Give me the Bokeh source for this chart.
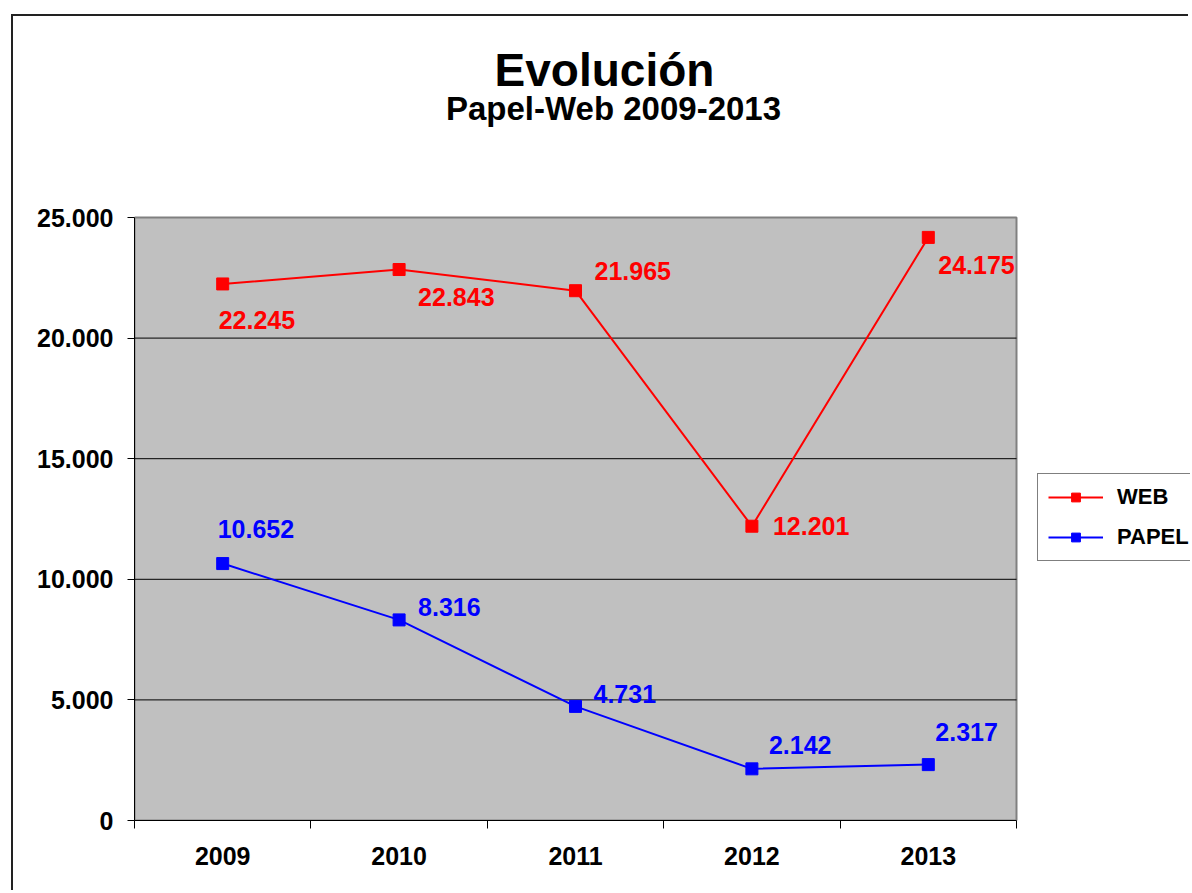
from bokeh.plotting import figure
from bokeh.models import Range1d, FixedTicker, Legend, LegendItem, Label
from bokeh.core.properties import value
from bokeh.embed import file_html
from bokeh.resources import INLINE

# ---- data ----
years = ["2009", "2010", "2011", "2012", "2013"]
web = [22245, 22843, 21965, 12201, 24175]
papel = [10652, 8316, 4731, 2142, 2317]
y_ticks = [0, 5000, 10000, 15000, 20000, 25000]
y_tick_labels = ["0", "5.000", "10.000", "15.000", "20.000", "25.000"]
title_main = "Evolución"
title_sub = "Papel-Web 2009-2013"

# data-label offsets in screen pixels (positive dy = down)
web_dx = [-4, 19, 19, 21, 10]
web_dy = [36, 27, -20, 0, 28]
papel_dx = [-5, 19, 18, 17, 7]
papel_dy = [-35, -13, -12, -24, -33]

FONT = "Liberation Sans"

# ---- layout (page pixels) ----
CANVAS_X, CANVAS_Y = 13, 16          # canvas origin on the page
PLOT_L, PLOT_R = 134, 1016           # grey plot area
PLOT_T, PLOT_B = 217, 820
W, H = 1177, 876
FRAME_R = CANVAS_X + W               # frame extends to the canvas right edge
FRAME_T = CANVAS_Y                   # ... and to the canvas top
Y_MAX = y_ticks[-1]
N = len(years)

x_end = N * (FRAME_R - PLOT_L) / (PLOT_R - PLOT_L)
y_end = Y_MAX * (PLOT_B - FRAME_T) / (PLOT_B - PLOT_T)


def px_to_x(px):
    return N * (px - PLOT_L) / (PLOT_R - PLOT_L)


def py_to_y(py):
    return Y_MAX * (PLOT_B - py) / (PLOT_B - PLOT_T)


def fmt(v):
    return f"{v:,}".replace(",", ".")


xs = [i + 0.5 for i in range(N)]

p = figure(width=W, height=H,
           x_range=Range1d(0, x_end), y_range=Range1d(0, y_end),
           output_backend="svg", toolbar_location=None,
           min_border_left=PLOT_L - CANVAS_X, min_border_right=0,
           min_border_top=0, min_border_bottom=CANVAS_Y + H - PLOT_B)
p.margin = (CANVAS_Y - 2, 0, 0, CANVAS_X - 2)
p.styles = {"border-left": "2px solid #222", "border-top": "2px solid #222"}

p.background_fill_color = "white"
p.border_fill_color = "white"
p.outline_line_color = None
p.xgrid.visible = False
p.ygrid.visible = False

# grey plot area with grey border
p.quad(left=[0], right=[N], bottom=[0], top=[Y_MAX],
       fill_color="#C0C0C0", line_color="#808080", line_width=2)
# horizontal gridlines
p.segment(x0=[0] * (len(y_ticks) - 2), x1=[N] * (len(y_ticks) - 2),
          y0=y_ticks[1:-1], y1=y_ticks[1:-1], line_color="black", line_width=1)

# y axis
ya = p.yaxis[0]
ya.bounds = (0, Y_MAX)
ya.ticker = FixedTicker(ticks=y_ticks)
ya.major_label_overrides = {t: l for t, l in zip(y_ticks, y_tick_labels)}
ya.axis_line_color = "black"
ya.major_tick_line_color = "black"
ya.major_tick_out = 7
ya.major_tick_in = 0
ya.minor_tick_line_color = None
ya.major_label_standoff = 14
ya.major_label_text_font = FONT
ya.major_label_text_font_style = "bold"
ya.major_label_text_font_size = "25px"
ya.major_label_text_color = "black"

# x axis
xa = p.xaxis[0]
xa.bounds = (0, N)
xa.ticker = FixedTicker(ticks=xs, minor_ticks=list(range(N + 1)))
xa.major_label_overrides = {x: y for x, y in zip(xs, years)}
xa.axis_line_color = "black"
xa.major_tick_line_color = None
xa.major_tick_out = 0
xa.major_tick_in = 0
xa.minor_tick_line_color = "black"
xa.minor_tick_out = 8
xa.minor_tick_in = 0
xa.major_label_standoff = 18
xa.major_label_text_font = FONT
xa.major_label_text_font_style = "bold"
xa.major_label_text_font_size = "25px"
xa.major_label_text_color = "black"

# series
wl = p.line(xs, web, line_color="#FF0000", line_width=2)
ws = p.scatter(xs, web, marker="square", size=12, color="#FF0000")
pl = p.line(xs, papel, line_color="#0000FF", line_width=2)
ps = p.scatter(xs, papel, marker="square", size=12, color="#0000FF")

p.text(xs, web, text=[fmt(v) for v in web], x_offset=web_dx, y_offset=web_dy,
       text_align="left", text_baseline="middle", text_color="#FF0000",
       text_font=value(FONT), text_font_style="bold", text_font_size="25px")
p.text(xs, papel, text=[fmt(v) for v in papel], x_offset=papel_dx, y_offset=papel_dy,
       text_align="left", text_baseline="middle", text_color="#0000FF",
       text_font=value(FONT), text_font_style="bold", text_font_size="25px")

# titles
p.add_layout(Label(x=px_to_x(604), y=py_to_y(69), text=title_main,
                   text_align="center", text_baseline="alphabetic",
                   text_font=FONT, text_font_style="bold", text_font_size="46px",
                   text_color="black"))
p.add_layout(Label(x=px_to_x(613), y=py_to_y(108), text=title_sub,
                   text_align="center", text_baseline="alphabetic",
                   text_font=FONT, text_font_style="bold", text_font_size="33px",
                   text_color="black"))

# legend
legend = Legend(items=[LegendItem(label="WEB", renderers=[wl, ws]),
                       LegendItem(label="PAPEL", renderers=[pl, ps])],
                location=(1037 - PLOT_L, PLOT_B - 561))
legend.border_line_color = "black"
legend.border_line_width = 1
legend.background_fill_color = "white"
legend.background_fill_alpha = 1
legend.label_text_font = FONT
legend.label_text_font_style = "bold"
legend.label_text_font_size = "22px"
legend.label_text_color = "black"
legend.glyph_width = 55
legend.glyph_height = 22
legend.label_height = 22
legend.label_standoff = 14
legend.padding = 10
legend.spacing = 14
legend.margin = 0
p.add_layout(legend, "center")

open("out.html", "w").write(file_html(p, INLINE))
